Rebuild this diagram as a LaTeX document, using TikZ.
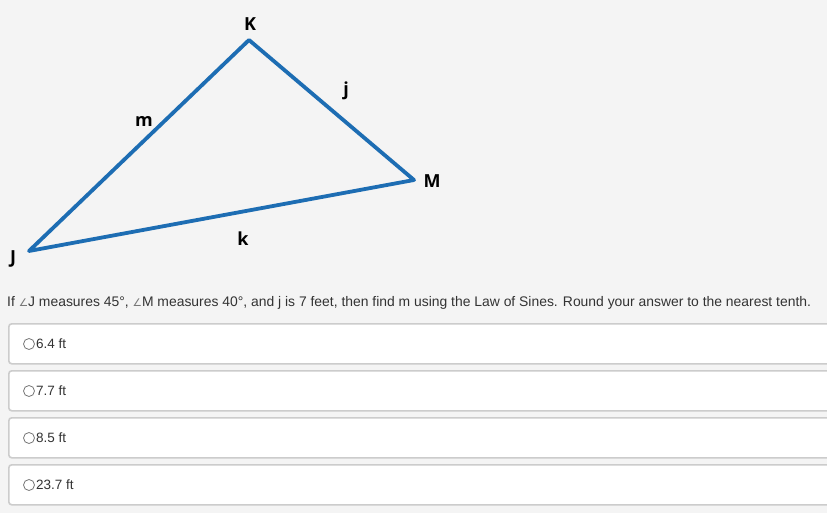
\documentclass[tikz,border=0pt]{standalone}
\usepackage{fontspec}
\setmainfont{Liberation Sans}
\newfontfamily\labelfont{Open Sans}
\newfontfamily\symfont{DejaVu Sans}
\usetikzlibrary{positioning}
\definecolor{pagegray}{HTML}{F4F4F4}
\definecolor{boxline}{HTML}{CCCCCC}
\definecolor{triblue}{HTML}{1D6DB3}
\definecolor{textgray}{HTML}{333333}
\definecolor{radiogray}{HTML}{777777}

\begin{document}
\begin{tikzpicture}[x=1pt,y=-1pt,
  side/.style={draw=triblue,line width=3.8pt,line join=round},
  vlabel/.style={font=\labelfont\bfseries\fontsize{18}{20}\selectfont,inner sep=0pt},
  choice/.style={draw=boxline,line width=1.6pt,fill=white,rounded corners=3pt,
    minimum width=860pt,minimum height=40pt,anchor=north west,inner sep=0pt},
  radio/.style={circle,draw=radiogray,line width=0.8pt,minimum size=11pt,inner sep=0pt},
  answer/.style={font=\fontsize{13.5}{15}\selectfont,text=textgray,inner sep=0pt,anchor=west}]
\useasboundingbox[fill=pagegray] (0,0) rectangle (827,513);

% the triangle
  \coordinate (K) at (249,40);
  \coordinate (M) at (414,180);
  \coordinate (J) at (29,251);
  \path[side] (J) -- (K) -- (M) -- cycle;

% vertex and side names
  \node[vlabel] (lK) at (250,24)  {K};
  \node[vlabel] (lM) at (432,181) {M};
  \node[vlabel] (lJ) at (13,259)  {J};
  \node[vlabel] (lm) at (144,121) {m};
  \node[vlabel] (lj) at (346,91)  {j};
  \node[vlabel] (lk) at (243,239) {k};

% the question
  \node[answer,font=\fontsize{13.9}{16}\selectfont] (q) at (7,303)
    {If {\symfont\fontsize{10.5}{12}\selectfont\color{radiogray}∠}J measures 45°, {\symfont\fontsize{10.5}{12}\selectfont\color{radiogray}∠}M measures 40°, and j is 7 feet, then find m using the Law of Sines. Round your answer to the nearest tenth.};

% the four choices
  \node[choice] (c1) at (8,323) {};
  \node[choice] (c2) at (8,370) {};
  \node[choice] (c3) at (8,417) {};
  \node[choice] (c4) at (8,464) {};
  \node[radio] (r1) at (29,344) {};
  \node[radio] (r2) at (29,391) {};
  \node[radio] (r3) at (29,438) {};
  \node[radio] (r4) at (29,485) {};
  \node[answer] (a1) [right=1pt of r1] {6.4 ft};
  \node[answer] (a2) [right=1pt of r2] {7.7 ft};
  \node[answer] (a3) [right=1pt of r3] {8.5 ft};
  \node[answer] (a4) [right=1pt of r4] {23.7 ft};
\end{tikzpicture}
\end{document}
